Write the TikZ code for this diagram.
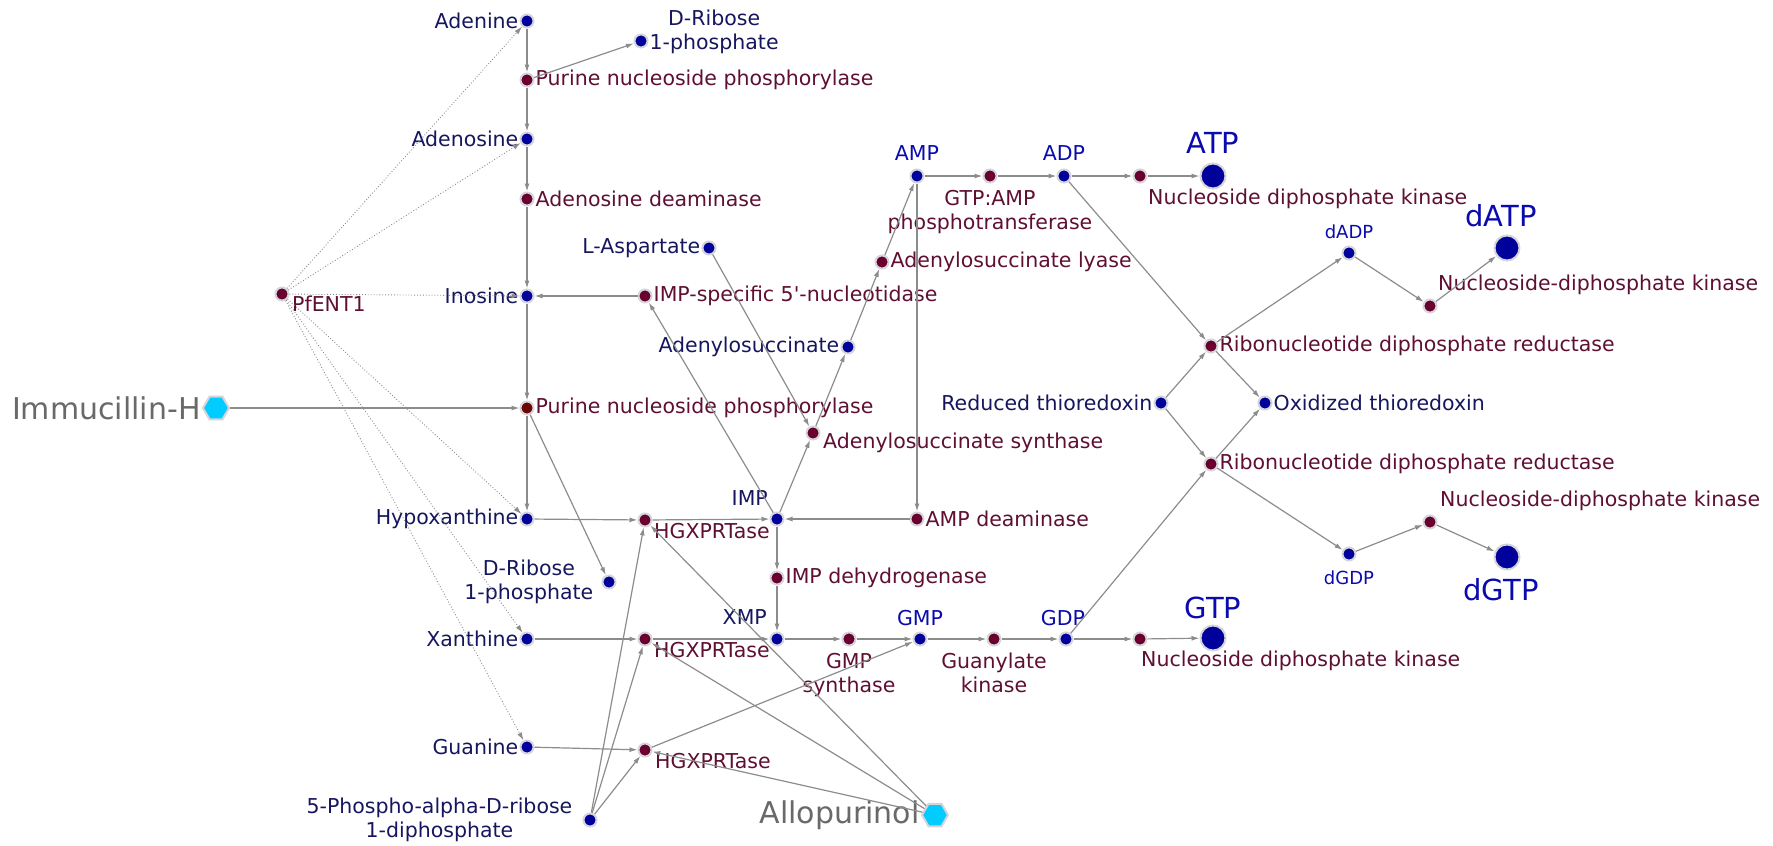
\documentclass[tikz,border=0pt]{standalone}
\usepackage{fontspec}
\setmainfont{DejaVu Sans}
\usetikzlibrary{shapes.geometric,arrows.meta,positioning,calc}
\definecolor{metdot}{RGB}{0,0,155}
\definecolor{rxndot}{RGB}{105,0,45}
\definecolor{rxndotb}{RGB}{110,5,5}
\definecolor{halo}{RGB}{212,212,218}
\definecolor{mettext}{RGB}{22,22,95}
\definecolor{nuctext}{RGB}{10,10,175}
\definecolor{rxntext}{RGB}{95,15,50}
\definecolor{drugtext}{RGB}{105,105,105}
\definecolor{drugfill}{RGB}{0,204,255}
\definecolor{edgecol}{RGB}{140,140,140}
\begin{document}
\begin{tikzpicture}[x=1pt,y=-1pt,
  every node/.style={font=\fontsize{20.5}{24}\selectfont, inner sep=1pt},
  met/.style={circle, fill=metdot, draw=halo, line width=2pt, minimum size=13pt, inner sep=0pt},
  bigmet/.style={met, minimum size=25pt},
  rxn/.style={circle, fill=rxndot, draw=halo, line width=2pt, minimum size=13pt, inner sep=0pt},
  drug/.style={regular polygon, regular polygon sides=6, fill=drugfill, draw=halo, line width=2pt, minimum size=26pt, inner sep=0pt},
  mlab/.style={text=mettext},
  nlab/.style={text=nuctext},
  rlab/.style={text=rxntext},
  dlab/.style={text=drugtext, font=\fontsize{30}{34}\selectfont},
  biglab/.style={text=nuctext, font=\fontsize{29}{32}\selectfont},
  edge/.style={draw=edgecol, line width=1.2pt, -{Latex[length=8pt,width=5pt]}},
  tr/.style={draw=edgecol, line width=0.9pt, dotted, -{Latex[length=8pt,width=5pt]}},
]
\useasboundingbox (0,0) rectangle (1773,846);

% ---------- dots ----------
\node[met] (adenine) at (527,21) {};
\node[met] (drib1) at (641,41) {};
\node[rxn] (pnp1) at (527,80) {};
\node[met] (adenosine) at (527,139) {};
\node[rxn] (ada) at (527,199) {};
\node[met] (lasp) at (709,248) {};
\node[rxn] (pfent) at (282,294) {};
\node[met] (inosine) at (527,296) {};
\node[rxn] (imp5) at (645,296) {};
\node[rxn] (adsl) at (882,262) {};
\node[met] (amp) at (917,176) {};
\node[rxn] (gtpamp) at (990,176) {};
\node[met] (adp) at (1064,176) {};
\node[rxn] (ndk1) at (1140,176) {};
\node[bigmet] (atp) at (1213,176) {};
\node[met] (dadp) at (1349,253) {};
\node[bigmet] (datp) at (1507,248) {};
\node[rxn] (ndpk1) at (1430,306) {};
\node[met] (adsucc) at (848,347) {};
\node[rxn] (rdr1) at (1211,346) {};
\node[met] (redtrx) at (1161,403) {};
\node[met] (oxtrx) at (1265,403) {};
\node[rxn] (rdr2) at (1211,464) {};
\node[drug] (immh) at (216,408) {};
\node[rxn, fill=rxndotb] (pnp2) at (527,408) {};
\node[rxn] (adss) at (813,433) {};
\node[met] (hypox) at (527,519) {};
\node[rxn] (hg1) at (645,520) {};
\node[met] (imp) at (777,519) {};
\node[rxn] (ampd) at (917,519) {};
\node[met] (drib2) at (609,582) {};
\node[rxn] (impdh) at (777,578) {};
\node[met] (xan) at (527,639) {};
\node[rxn] (hg2) at (645,639) {};
\node[met] (xmp) at (777,639) {};
\node[rxn] (gmps) at (849,639) {};
\node[met] (gmp) at (920,639) {};
\node[rxn] (guk) at (994,639) {};
\node[met] (gdp) at (1066,639) {};
\node[rxn] (ndk2) at (1140,639) {};
\node[bigmet] (gtp) at (1213,638) {};
\node[met] (dgdp) at (1349,554) {};
\node[rxn] (ndpk2) at (1430,522) {};
\node[bigmet] (dgtp) at (1507,557) {};
\node[met] (guanine) at (527,747) {};
\node[rxn] (hg3) at (645,750) {};
\node[met] (prpp) at (590,820) {};
\node[drug] (allo) at (935,815) {};

% ---------- labels ----------
\node[mlab, left=0pt of adenine] (adeninel) {Adenine};
\node[mlab, align=center, anchor=west] (drib1l) at ([yshift=9pt]drib1.east) {D-Ribose\\1-phosphate};
\node[rlab, right=0pt of pnp1] (pnp1l) {Purine nucleoside phosphorylase};
\node[mlab, left=0pt of adenosine] (adenosinel) {Adenosine};
\node[rlab, right=0pt of ada] (adal) {Adenosine deaminase};
\node[mlab, left=0pt of lasp] (laspl) {L-Aspartate};
\node[rlab, anchor=west] (pfentl) at ([xshift=9pt,yshift=-10pt]pfent.center) {PfENT1};
\node[mlab, left=0pt of inosine] (inosinel) {Inosine};
\node[rlab, right=0pt of imp5] (imp5l) {IMP-specific 5\textquotesingle-nucleotidase};
\node[rlab, right=0pt of adsl] (adsll) {Adenylosuccinate lyase};
\node[nlab, anchor=base] (ampl) at ([yshift=16pt]amp.center) {AMP};
\node[rlab, align=center, anchor=north] (gtpampl) at ([yshift=-13pt]gtpamp.center) {GTP:AMP\\phosphotransferase};
\node[nlab, anchor=base] (adpl) at ([yshift=16pt]adp.center) {ADP};
\node[rlab, anchor=north west] (ndk1l) at ([xshift=7pt,yshift=-12pt]ndk1.center) {Nucleoside diphosphate kinase};
\node[biglab, anchor=base] (atpl) at ([yshift=23pt]atp.center) {ATP};
\node[nlab, anchor=base, font=\fontsize{18}{20}\selectfont] (dadpl) at ([yshift=15pt]dadp.center) {dADP};
\node[biglab, anchor=base] (datpl) at ([xshift=-6pt,yshift=22pt]datp.center) {dATP};
\node[rlab, anchor=west] (ndpk1l) at ([xshift=7pt,yshift=21pt]ndpk1.center) {Nucleoside-diphosphate kinase};
\node[mlab, left=0pt of adsucc] (adsuccl) {Adenylosuccinate};
\node[rlab, right=0pt of rdr1] (rdr1l) {Ribonucleotide diphosphate reductase};
\node[mlab, left=0pt of redtrx] (redtrxl) {Reduced thioredoxin};
\node[mlab, right=0pt of oxtrx] (oxtrxl) {Oxidized thioredoxin};
\node[rlab, right=0pt of rdr2] (rdr2l) {Ribonucleotide diphosphate reductase};
\node[dlab, left=0pt of immh] (immhl) {Immucillin-H};
\node[rlab, right=0pt of pnp2] (pnp2l) {Purine nucleoside phosphorylase};
\node[rlab, anchor=west] (adssl) at ([xshift=9pt,yshift=-10pt]adss.center) {Adenylosuccinate synthase};
\node[mlab, left=0pt of hypox] (hypoxl) {Hypoxanthine};
\node[rlab, anchor=west] (hg1l) at ([xshift=8pt,yshift=-11pt]hg1.center) {HGXPRTase};
\node[mlab, anchor=base east] (impl) at ([xshift=-8pt,yshift=14pt]imp.center) {IMP};
\node[rlab, right=0pt of ampd] (ampdl) {AMP deaminase};
\node[mlab, align=center, anchor=east] (drib2l) at ([xshift=-7pt]drib2.west) {D-Ribose\\1-phosphate};
\node[rlab, right=0pt of impdh] (impdhl) {IMP dehydrogenase};
\node[mlab, left=0pt of xan] (xanl) {Xanthine};
\node[rlab, anchor=west] (hg2l) at ([xshift=8pt,yshift=-11pt]hg2.center) {HGXPRTase};
\node[mlab, anchor=base east] (xmpl) at ([xshift=-9pt,yshift=15pt]xmp.center) {XMP};
\node[rlab, align=center, anchor=north] (gmpsl) at ([yshift=-13pt]gmps.center) {GMP\\synthase};
\node[nlab, anchor=base] (gmpl) at ([yshift=14pt]gmp.center) {GMP};
\node[rlab, align=center, anchor=north] (gukl) at ([yshift=-13pt]guk.center) {Guanylate\\kinase};
\node[nlab, anchor=base] (gdpl) at ([xshift=-3pt,yshift=14pt]gdp.center) {GDP};
\node[rlab, anchor=north west] (ndk2l) at ([xshift=0pt,yshift=-11pt]ndk2.center) {Nucleoside diphosphate kinase};
\node[biglab, anchor=base] (gtpl) at ([yshift=20pt]gtp.center) {GTP};
\node[nlab, anchor=base, font=\fontsize{18}{20}\selectfont] (dgdpl) at ([yshift=-30pt]dgdp.center) {dGDP};
\node[rlab, anchor=west] (ndpk2l) at ([xshift=9pt,yshift=21pt]ndpk2.center) {Nucleoside-diphosphate kinase};
\node[biglab, anchor=base] (dgtpl) at ([xshift=-6pt,yshift=-43pt]dgtp.center) {dGTP};
\node[mlab, left=0pt of guanine] (guaninel) {Guanine};
\node[rlab, anchor=west] (hg3l) at ([xshift=9pt,yshift=-11pt]hg3.center) {HGXPRTase};
\node[mlab, align=center, anchor=east] (prppl) at ([xshift=-9pt]prpp.west) {5-Phospho-alpha-D-ribose\\1-diphosphate};
\node[dlab, left=0pt of allo] (allol) {Allopurinol};

% ---------- transport (dotted) ----------
\draw[tr] (pfent) -- (adenine);
\draw[tr] (pfent) -- (adenosine);
\draw[tr] (pfent) -- (inosine);
\draw[tr] (pfent) -- (hypox);
\draw[tr] (pfent) -- (xan);
\draw[tr] (pfent) -- (guanine);

% ---------- reactions ----------
\draw[edge] (adenine) -- (pnp1);
\draw[edge] (pnp1) -- (drib1);
\draw[edge] (pnp1) -- (adenosine);
\draw[edge] (adenosine) -- (ada);
\draw[edge] (ada) -- (inosine);
\draw[edge] (inosine) -- (pnp2);
\draw[edge] (immh) -- (pnp2);
\draw[edge] (pnp2) -- (hypox);
\draw[edge] (pnp2) -- (drib2);
\draw[edge] (hypox) -- (hg1);
\draw[edge] (hg1) -- (imp);
\draw[edge] (xan) -- (hg2);
\draw[edge] (hg2) -- (xmp);
\draw[edge] (guanine) -- (hg3);
\draw[edge] (hg3) -- (gmp);
\draw[edge] (prpp) -- (hg1);
\draw[edge] (prpp) -- (hg2);
\draw[edge] (prpp) -- (hg3);
\draw[edge] (allo) -- (hg1);
\draw[edge] (allo) -- (hg2);
\draw[edge] (allo) -- (hg3);
\draw[edge] (imp) -- (imp5);
\draw[edge] (imp5) -- (inosine);
\draw[edge] (imp) -- (adss);
\draw[edge] (lasp) -- (adss);
\draw[edge] (adss) -- (adsucc);
\draw[edge] (adsucc) -- (adsl);
\draw[edge] (adsl) -- (amp);
\draw[edge] (amp) -- (gtpamp);
\draw[edge] (gtpamp) -- (adp);
\draw[edge] (adp) -- (ndk1);
\draw[edge] (ndk1) -- (atp);
\draw[edge] (amp) -- (ampd);
\draw[edge] (ampd) -- (imp);
\draw[edge] (imp) -- (impdh);
\draw[edge] (impdh) -- (xmp);
\draw[edge] (xmp) -- (gmps);
\draw[edge] (gmps) -- (gmp);
\draw[edge] (gmp) -- (guk);
\draw[edge] (guk) -- (gdp);
\draw[edge] (gdp) -- (ndk2);
\draw[edge] (ndk2) -- (gtp);
\draw[edge] (adp) -- (rdr1);
\draw[edge] (rdr1) -- (dadp);
\draw[edge] (dadp) -- (ndpk1);
\draw[edge] (ndpk1) -- (datp);
\draw[edge] (redtrx) -- (rdr1);
\draw[edge] (rdr1) -- (oxtrx);
\draw[edge] (redtrx) -- (rdr2);
\draw[edge] (rdr2) -- (oxtrx);
\draw[edge] (gdp) -- (rdr2);
\draw[edge] (rdr2) -- (dgdp);
\draw[edge] (dgdp) -- (ndpk2);
\draw[edge] (ndpk2) -- (dgtp);
\end{tikzpicture}
\end{document}
